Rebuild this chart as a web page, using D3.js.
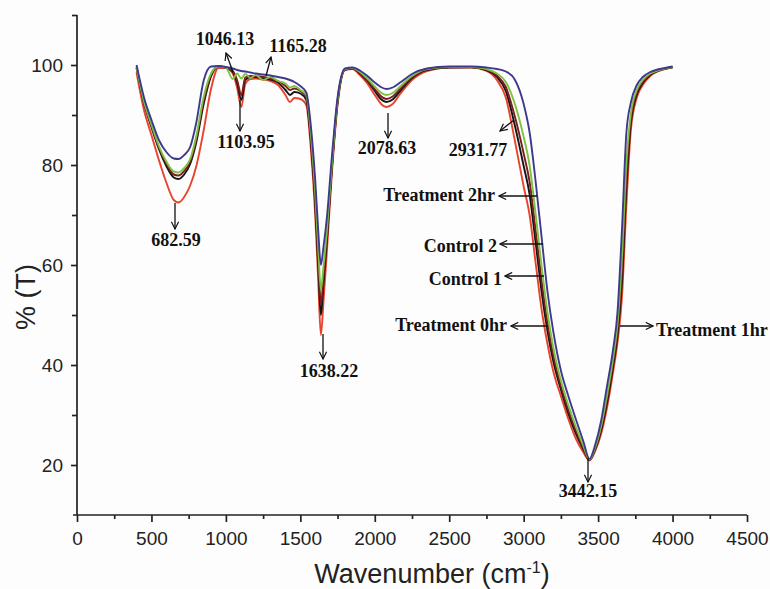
<!DOCTYPE html>
<html>
<head>
<meta charset="utf-8">
<script src="https://cdn.jsdelivr.net/npm/d3@7"></script>
<style>
  html, body { margin: 0; padding: 0; background: #fdfdfd; }
  svg { display: block; }
  .axis text { font-family: "Liberation Sans", Arial, sans-serif; font-size: 19px; fill: #222; }
  .axis path, .axis line { stroke: #222; stroke-width: 1.7; }
  .note { font-family: "Liberation Serif", "Times New Roman", serif; font-weight: bold; font-size: 18px; fill: #111; }
  .title { font-family: "Liberation Sans", Arial, sans-serif; font-size: 27px; fill: #222; }
</style>
</head>
<body>
<svg id="chart" width="770" height="589"></svg>
<script>
// wavenumbers (cm-1) sampled from the spectra
const wavenumbers = [400, 450, 500, 550, 600, 650, 682, 720, 760, 800, 850, 900, 950, 1000,
  1046, 1075, 1104, 1130, 1165, 1200, 1250, 1300, 1350, 1400, 1430, 1460, 1500, 1540, 1570, 1600,
  1620, 1638, 1655, 1680, 1710, 1750, 1800, 1850, 1900, 1950,
  2000, 2040, 2078, 2120, 2170, 2250, 2350, 2500, 2650, 2750,
  2820, 2880, 2940, 3000, 3040, 3080, 3120, 3160, 3200, 3250,
  3300, 3350, 3400, 3442, 3480, 3520, 3560, 3600, 3630, 3660,
  3690, 3720, 3760, 3800, 3850, 3900, 3950, 4000];

// % transmittance per sample
const treatment2hr = [100, 93.5, 89, 85, 82.6, 81.3, 81.2, 82, 83.6, 88.3, 96.8, 99.7, 99.8, 99.6,
  99.3, 99, 98.8, 98.7, 98.5, 98.3, 98.1, 97.9, 97.6, 97.3, 97, 96.6, 95.8, 94.5, 88, 77,
  67, 60, 63.5, 70, 81, 93.5, 99.3, 99.5, 98.9, 97.8,
  96.5, 95.6, 95.2, 95.5, 96.5, 98.2, 99.3, 99.7, 99.7, 99.5,
  99.2, 98.7, 97.1, 92.2, 86.5, 76.8, 65.7, 54.7, 46.5, 38.9,
  33.8, 29.2, 24.8, 21.2, 24, 28.8, 35.8, 43, 50.5, 67,
  86.5, 92.5, 96, 97.6, 98.6, 99.1, 99.4, 99.7];

const control2 = [99.5, 92.7, 88.1, 83.8, 80.7, 78.7, 78.5, 79.4, 81.2, 85.6, 93.5, 98.3, 99.7, 99.5,
  97.2, 98.3, 97.3, 98.2, 97.4, 98, 97, 97.6, 96.8, 96.3, 95.5, 95.8, 95, 94, 86.5, 74.5,
  63.5, 55, 59.5, 67.5, 79.5, 93, 99.2, 99.4, 98.6, 97.3,
  95.7, 94.5, 94, 94.4, 95.7, 97.8, 99.2, 99.6, 99.6, 99.2,
  98.3, 96.6, 92.3, 85.6, 79.9, 70.3, 59.9, 50.5, 43.3, 36.9,
  32, 27.7, 23.9, 21.1, 23.5, 27.8, 34, 41.2, 48.2, 61.5,
  80.5, 90.3, 95, 97, 98.3, 98.9, 99.3, 99.6];

const control1 = [99.5, 92.6, 87.9, 83.5, 80.3, 78.1, 77.9, 78.8, 80.7, 85, 92.8, 98, 99.7, 99.5,
  98.8, 97, 94, 97.5, 97.8, 97.8, 97.6, 97.3, 96.8, 95.8, 95, 95.3, 94.8, 93.5, 85.5, 73,
  61.5, 52, 57.5, 66.5, 79, 92.8, 99.1, 99.3, 98.4, 97,
  95.2, 93.8, 93.2, 93.7, 95.2, 97.6, 99.1, 99.6, 99.6, 99.1,
  97.9, 95.6, 89.8, 82.3, 76.6, 67, 57, 48.4, 41.8, 35.8,
  31, 26.9, 23.5, 21, 23.3, 27.3, 33.2, 40.3, 46.8, 58.5,
  77.5, 89.2, 94.5, 96.6, 98.1, 98.9, 99.3, 99.6];

const treatment0hr = [99.5, 92.4, 87.6, 83.2, 79.8, 77.5, 77.2, 78.1, 80.2, 84.4, 92.1, 97.7, 99.7, 99.5,
  98.6, 96.5, 93, 97, 97.6, 97.6, 97.4, 97.1, 96.5, 95, 94, 94.6, 94.3, 93, 85, 72,
  60, 50, 56, 65.5, 78.5, 92.5, 99.1, 99.3, 98.3, 96.8,
  94.8, 93.2, 92.6, 93.1, 94.8, 97.4, 99, 99.5, 99.55, 99,
  97.6, 94.8, 88, 79.8, 74.1, 64.6, 54.8, 46.8, 40.6, 35.1,
  30.3, 26.3, 23.2, 21, 23.1, 26.9, 32.5, 39.6, 45.8, 56.5,
  75.5, 88.4, 94.1, 96.4, 98, 98.8, 99.25, 99.55];

const treatment1hr = [98.5, 91, 86, 81, 76.5, 73, 72.5, 73.6, 75.9, 79.6, 86.8, 95.2, 99.4, 99.4,
  98.3, 95.5, 91.6, 96.2, 97.2, 97.3, 97.1, 96.8, 96, 94, 92.6, 93.4, 93.2, 92, 83.5, 70,
  57, 46, 52.5, 63.5, 77.5, 92, 99, 99.2, 98, 96.3,
  94, 92.3, 91.6, 92.2, 94.2, 97, 98.8, 99.5, 99.5, 98.8,
  97, 93.5, 85, 75.7, 70, 60.5, 51.2, 44.2, 38.6, 33.8,
  29.2, 25.3, 22.6, 20.9, 22.8, 26.2, 31.5, 38.5, 44.5, 53.5,
  72, 87, 93.5, 96, 97.8, 98.7, 99.2, 99.5];

const seriesNames = ['Treatment 1hr', 'Treatment 0hr', 'Control 1', 'Control 2', 'Treatment 2hr'];
const seriesValues = [treatment1hr, treatment0hr, control1, control2, treatment2hr];
const seriesColors = ['#e8432d', '#141414', '#7a1d1d', '#7dc242', '#3d3a8e'];

const xTicks = [0, 500, 1000, 1500, 2000, 2500, 3000, 3500, 4000, 4500];
const yTicks = [20, 40, 60, 80, 100];

const peakLabels = ['682.59', '1046.13', '1103.95', '1165.28', '1638.22', '2078.63', '2931.77', '3442.15'];

// annotation layout in pixels: text anchor point + arrow tail -> head
const peakLayout = [
  {tx: 176, ty: 246, a: [175, 203, 175, 229]},
  {tx: 225, ty: 45, a: [233, 72, 226, 53]},
  {tx: 246, ty: 148, a: [240, 100, 240, 131]},
  {tx: 298, ty: 52, a: [266, 76, 271, 57]},
  {tx: 329, ty: 377, a: [323, 334, 323, 359]},
  {tx: 387, ty: 154, a: [388, 113, 388, 138]},
  {tx: 478, ty: 156, a: [514, 120, 500, 131]},
  {tx: 588, ty: 497, a: [588, 458, 588, 482]}
];
const seriesLayout = [
  {tx: 656, ty: 336, anchor: 'start', a: [620, 326, 653, 326]},
  {tx: 507, ty: 331, anchor: 'end', a: [548, 326, 511, 326]},
  {tx: 502, ty: 285, anchor: 'end', a: [544, 276, 505, 276]},
  {tx: 497, ty: 252, anchor: 'end', a: [543, 244, 500, 244]},
  {tx: 495, ty: 201, anchor: 'end', a: [537, 196, 499, 196]}
];

const svg = d3.select('#chart');
const x = d3.scaleLinear().domain([0, 4500]).range([77, 747]);
const y = d3.scaleLinear().domain([10, 110]).range([515, 15]);

svg.append('rect').attr('width', 770).attr('height', 589).attr('fill', '#fdfdfd');

svg.append('defs').append('marker')
  .attr('id', 'head')
  .attr('viewBox', '0 0 10 10')
  .attr('refX', 9).attr('refY', 5)
  .attr('markerWidth', 9).attr('markerHeight', 9)
  .attr('markerUnits', 'userSpaceOnUse')
  .attr('orient', 'auto')
  .append('path')
  .attr('d', 'M1,1 L9,5 L1,9')
  .attr('fill', 'none')
  .attr('stroke', '#111')
  .attr('stroke-width', 1.3);

// minor ticks first so majors sit on top
const xMinor = d3.range(250, 4500, 500);
const yMinor = d3.range(30, 111, 20);

svg.append('g').attr('class', 'axis')
  .attr('transform', 'translate(0,515)')
  .call(d3.axisBottom(x).tickValues(xMinor).tickSize(4).tickFormat(''))
  .call(g => g.select('.domain').remove());
svg.append('g').attr('class', 'axis')
  .attr('transform', 'translate(77,0)')
  .call(d3.axisLeft(y).tickValues(yMinor).tickSize(5).tickFormat(''))
  .call(g => g.select('.domain').remove());

svg.append('g').attr('class', 'axis')
  .attr('transform', 'translate(0,515)')
  .call(d3.axisBottom(x).tickValues(xTicks).tickSize(7).tickSizeOuter(0).tickPadding(10).tickFormat(d3.format('d')))
  .call(g => g.select('.domain').attr('d', 'M73,0H747'));
svg.append('g').attr('class', 'axis')
  .attr('transform', 'translate(77,0)')
  .call(d3.axisLeft(y).tickValues(yTicks).tickSize(6).tickSizeOuter(0).tickPadding(8))
  .call(g => g.select('.domain').attr('d', 'M0,15V515'));

const line = d3.line()
  .x((d, i) => x(wavenumbers[i]))
  .y(d => y(d))
  .curve(d3.curveMonotoneX);

svg.append('g').selectAll('path')
  .data(seriesValues)
  .join('path')
  .attr('d', d => line(d))
  .attr('fill', 'none')
  .attr('stroke', (d, i) => seriesColors[i])
  .attr('stroke-width', 1.9)
  .attr('stroke-linejoin', 'round');

const notes = svg.append('g');

function arrow(a) {
  notes.append('line')
    .attr('x1', a[0]).attr('y1', a[1]).attr('x2', a[2]).attr('y2', a[3])
    .attr('stroke', '#111').attr('stroke-width', 1.3)
    .attr('marker-end', 'url(#head)');
}

peakLabels.forEach((txt, i) => {
  const p = peakLayout[i];
  arrow(p.a);
  notes.append('text').attr('class', 'note')
    .attr('x', p.tx).attr('y', p.ty)
    .attr('text-anchor', 'middle')
    .text(txt);
});

seriesNames.forEach((name, i) => {
  const p = seriesLayout[i];
  arrow(p.a);
  notes.append('text').attr('class', 'note')
    .attr('x', p.tx).attr('y', p.ty)
    .attr('text-anchor', p.anchor)
    .text(name);
});

// axis titles
const xt = svg.append('text').attr('class', 'title')
  .attr('x', 432).attr('y', 583)
  .attr('text-anchor', 'middle');
xt.append('tspan').text('Wavenumber (cm');
xt.append('tspan').attr('dy', -10).attr('font-size', 16).text('-1');
xt.append('tspan').attr('dy', 10).text(')');

svg.append('text').attr('class', 'title')
  .attr('font-size', 25)
  .attr('transform', 'translate(35,297) rotate(-90)')
  .attr('text-anchor', 'middle')
  .text('% (T)');
</script>
</body>
</html>
